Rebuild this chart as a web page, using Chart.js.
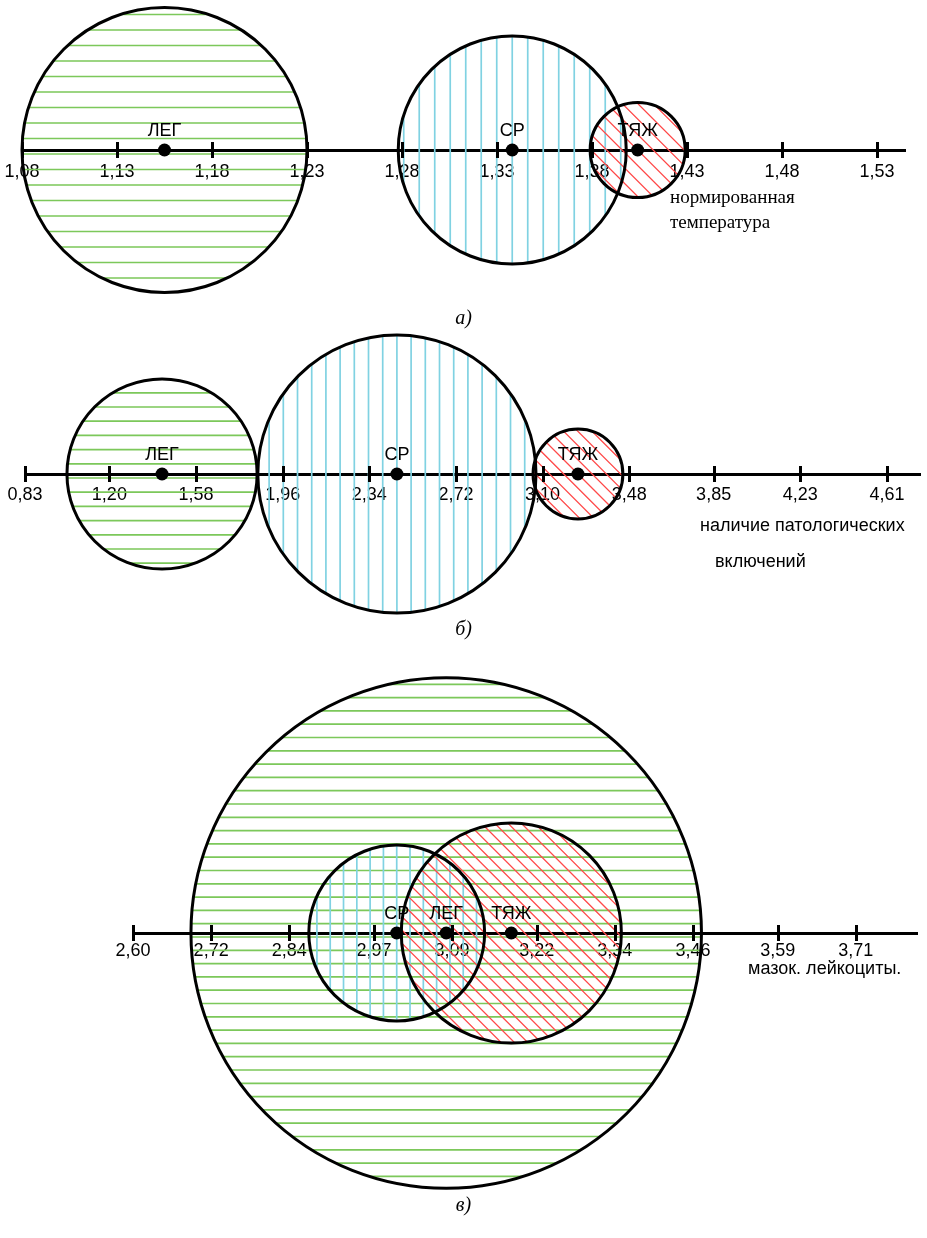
<!DOCTYPE html>
<html>
<head>
<meta charset="utf-8">
<script src="https://cdn.jsdelivr.net/npm/chart.js@4"></script>
<style>
body { margin: 0; background: #fff; width: 927px; height: 1238px; position: relative; overflow: hidden; }
canvas { position: absolute; left: 0; }
.note { position: absolute; font-family: "Liberation Sans", Arial, sans-serif; font-size: 18px; line-height: 18px; color: #000; white-space: nowrap; }
.serif { font-family: "Liberation Serif", "Times New Roman", serif; font-size: 19px; line-height: 25px; }
.cap { position: absolute; left: 0; width: 927px; text-align: center; font-family: "Liberation Serif", "Times New Roman", serif; font-style: italic; font-size: 20px; line-height: 20px; }
</style>
</head>
<body>
<canvas id="chartA" width="927" height="300" style="top:0"></canvas>
<canvas id="chartB" width="927" height="300" style="top:324px"></canvas>
<canvas id="chartC" width="927" height="600" style="top:633px"></canvas>

<div class="note serif" style="left:670px;top:184px">нормированная<br>температура</div>
<div class="cap" style="top:307px">а)</div>
<div class="note" style="left:700px;top:516px">наличие патологических</div>
<div class="note" style="left:715px;top:552px">включений</div>
<div class="cap" style="top:618px">б)</div>
<div class="note" style="left:748px;top:959px">мазок. лейкоциты.</div>
<div class="cap" style="top:1194px">в)</div>

<script>
// группы тяжести
const groups = ['ЛЕГ', 'СР', 'ТЯЖ'];
const hatchKinds = ['h', 'v', 'd'];

// а) нормированная температура
const tempTicks = [1.08, 1.13, 1.18, 1.23, 1.28, 1.33, 1.38, 1.43, 1.48, 1.53];
const tempCenters = [1.155, 1.338, 1.404];
const tempSpread = [0.075, 0.060, 0.025];

// б) наличие патологических включений
const inclTicks = [0.83, 1.20, 1.58, 1.96, 2.34, 2.72, 3.10, 3.48, 3.85, 4.23, 4.61];
const inclCenters = [1.431, 2.461, 3.255];
const inclSpread = [0.417, 0.610, 0.197];

// в) мазок, лейкоциты
const leukTicks = [2.60, 2.72, 2.84, 2.97, 3.09, 3.22, 3.34, 3.46, 3.59, 3.71];
const leukCenters = [3.081, 3.005, 3.181];
const leukSpread = [0.392, 0.135, 0.169];

const hatchColors = { h: '#7cc85a', v: '#80d2e2', d: '#ff4a4a' };

// hatch fill inside each circle, drawn before the outlines
const hatchPlugin = {
    id: 'hatch',
    beforeDatasetsDraw(chart, args, opts) {
        const ctx = chart.ctx;
        const meta = chart.getDatasetMeta(0);
        const kinds = chart.data.datasets[0].hatch;
        const gap = opts.gap;
        meta.data.forEach((pt, i) => {
            const r = pt.options.radius;
            const x = pt.x, y = pt.y;
            const kind = kinds[i];
            const n = Math.ceil(1.5 * r / gap) + 2;
            ctx.save();
            ctx.beginPath();
            ctx.arc(x, y, r, 0, Math.PI * 2);
            ctx.clip();
            ctx.strokeStyle = hatchColors[kind];
            ctx.lineWidth = kind === 'd' ? 1.3 : 1.7;
            ctx.beginPath();
            for (let k = -n; k <= n; k++) {
                if (kind === 'h') {
                    const yy = y + 4 + k * gap;
                    ctx.moveTo(x - r, yy); ctx.lineTo(x + r, yy);
                } else if (kind === 'v') {
                    const xx = x + k * gap;
                    ctx.moveTo(xx, y - r); ctx.lineTo(xx, y + r);
                } else {
                    const xx = x + k * gap;
                    ctx.moveTo(xx - 2 * r, y - 2 * r); ctx.lineTo(xx + 2 * r, y + 2 * r);
                }
            }
            ctx.stroke();
            ctx.restore();
        });
    },
    afterDatasetsDraw(chart) {
        const ctx = chart.ctx;
        const meta = chart.getDatasetMeta(0);
        const names = chart.data.labels;
        ctx.save();
        ctx.fillStyle = '#000';
        ctx.font = '18px "Liberation Sans", Arial, sans-serif';
        ctx.textAlign = 'center';
        ctx.textBaseline = 'alphabetic';
        meta.data.forEach((pt, i) => {
            ctx.fillText(names[i], pt.x, pt.y - 14);
        });
        ctx.restore();
    },
    afterDraw(chart) {
        const ctx = chart.ctx;
        const sx = chart.scales.x;
        const y0 = chart.scales.y.getPixelForValue(0);
        ctx.save();
        ctx.strokeStyle = '#000';
        ctx.lineWidth = 3;
        ctx.beginPath();
        sx.ticks.forEach(t => {
            const px = Math.round(sx.getPixelForValue(t.value)) + 0.5;
            ctx.moveTo(px, y0 - 8);
            ctx.lineTo(px, y0 + 8);
        });
        ctx.stroke();
        ctx.restore();
    }
};

function makeChart(id, tickVals, centers, spread, names, min, max, padLeft, padRight, gap, tickGap) {
    const order = names.map(n => groups.indexOf(n));
    return new Chart(document.getElementById(id), {
        type: 'scatter',
        data: {
            labels: names,
            datasets: [{
                data: centers.map(c => ({ x: c, y: 0 })),
                hatch: order.map(k => hatchKinds[k]),
                pointRadius: ctx => {
                    const s = ctx.chart.scales.x;
                    const c = centers[ctx.dataIndex];
                    return s.getPixelForValue(c + spread[ctx.dataIndex]) - s.getPixelForValue(c);
                },
                pointBackgroundColor: 'rgba(0,0,0,0)',
                pointBorderColor: '#000',
                pointBorderWidth: 3,
                clip: false,
                order: 2
            }, {
                data: centers.map(c => ({ x: c, y: 0 })),
                pointRadius: 6.5,
                pointBackgroundColor: '#000',
                pointBorderWidth: 0,
                clip: false,
                order: 1
            }]
        },
        options: {
            responsive: false,
            animation: false,
            events: [],
            layout: { padding: { left: padLeft, right: padRight, top: 0, bottom: 0 } },
            plugins: {
                legend: { display: false },
                tooltip: { enabled: false },
                hatch: { gap: gap }
            },
            scales: {
                x: {
                    type: 'linear',
                    position: { y: 0 },
                    min: min,
                    max: max,
                    z: 1,
                    afterBuildTicks: axis => { axis.ticks = tickVals.map(v => ({ value: v })); },
                    // tick marks are drawn by the plugin; tickLength only spaces the labels
                    grid: { display: false, drawTicks: true, tickLength: tickGap },
                    border: { display: true, color: '#000', width: 3 },
                    ticks: {
                        autoSkip: false,
                        maxRotation: 0,
                        padding: 0,
                        color: '#000',
                        font: { family: '"Liberation Sans", Arial, sans-serif', size: 18 },
                        callback: v => v.toFixed(2).replace('.', ',')
                    }
                },
                y: { display: false, min: -1, max: 1 }
            }
        },
        plugins: [hatchPlugin]
    });
}

makeChart('chartA', tempTicks, tempCenters, tempSpread, groups, 1.08, 1.5447, 22, 22, 15.5, 11);
makeChart('chartB', inclTicks, inclCenters, inclSpread, groups, 0.83, 4.755, 25, 7, 14.2, 10);
makeChart('chartC', leukTicks, leukCenters, leukSpread, ['ЛЕГ', 'СР', 'ТЯЖ'], 2.60, 3.804, 133, 10, 13.3, 7);
</script>
</body>
</html>
